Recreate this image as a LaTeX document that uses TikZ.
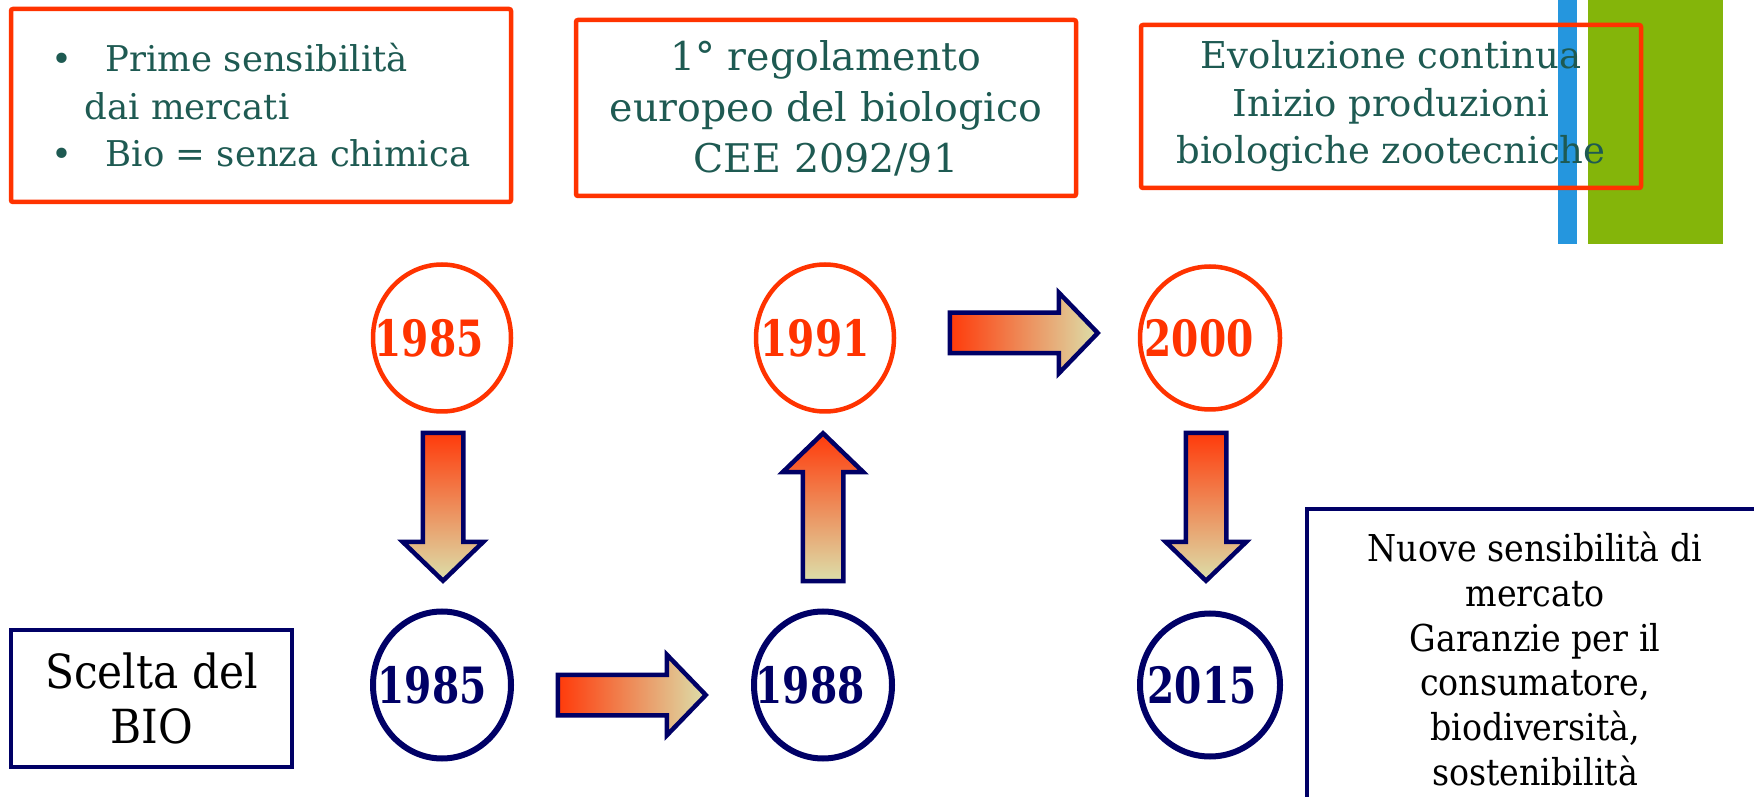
\documentclass[tikz,border=0pt]{standalone}
\usepackage{fontspec}
\usepackage{graphicx}
\setmainfont{DejaVu Serif}
\newfontfamily\blackfont{DejaVu Serif Condensed}
\newfontfamily\yearfont{DejaVu Serif Condensed}
\usetikzlibrary{shapes.geometric,shapes.arrows}

\definecolor{boxred}{HTML}{FF3300}
\definecolor{navy}{HTML}{000066}
\definecolor{notetext}{HTML}{1E5A52}
\definecolor{barblue}{HTML}{2596DE}
\definecolor{bargreen}{HTML}{84B50A}
\definecolor{arrowred}{HTML}{FF3A0A}
\definecolor{arrowtan}{HTML}{DCDFAA}

\tikzset{
  notebox/.style={draw=boxred, line width=4.5pt, rounded corners=2pt, text=notetext,
    align=center, inner sep=0pt, font=\fontsize{35.5}{47.5}\selectfont},
  choicebox/.style={draw=navy, line width=4pt, align=center, inner sep=0pt},
  yearold/.style={ellipse, draw=boxred, line width=4.5pt, inner sep=0pt,
    minimum width=138pt, minimum height=147pt},
  yearnew/.style={yearold, draw=navy, line width=6pt},
  yeartext/.style={inner sep=0pt},
  bigarrow/.style={single arrow, draw=navy, line width=4.5pt, inner xsep=0pt, inner ysep=18pt,
    single arrow head extend=20pt, single arrow tip angle=92, minimum height=148pt},
  arrowh/.style={bigarrow, left color=arrowred, right color=arrowtan},
  arrowv/.style={bigarrow, top color=arrowred, bottom color=arrowtan}
}
\newcommand{\yr}[1]{\scalebox{0.87}[1]{\yearfont\bfseries\fontsize{50}{50}\selectfont #1}}

\begin{document}
\begin{tikzpicture}[x=1pt,y=1pt]
  \clip (0,0) rectangle (1754,796);

  %% bars top right
  \fill[barblue] (1558,552) rectangle (1577,796);
  \fill[bargreen] (1588,552) rectangle (1723,796);

  %% notes
  \node[notebox, minimum width=500pt, minimum height=193pt, align=left] (mercati) at (261,690.5)
    {\makebox[54pt][l]{\textbullet}Prime sensibilità\\\hspace*{33pt}dai mercati\\\makebox[54pt][l]{\textbullet}Bio = senza chimica};
  \node[notebox, minimum width=500pt, minimum height=176pt,
    font=\fontsize{39.5}{51}\selectfont] (regolamento) at (826,688)
    {1° regolamento\\europeo del biologico\\CEE 2092/91};
  \node[notebox, minimum width=500pt, minimum height=163pt,
    font=\fontsize{37}{47.5}\selectfont] (evoluzione) at (1391,689.5)
    {Evoluzione continua\\Inizio produzioni\\biologiche zootecniche};

  %% years
  \node[yearold, label={[yeartext, text=boxred, xshift=-13pt]center:\yr{1985}}] (y85old) at (442,458) {};
  \node[yearold, label={[yeartext, text=boxred, xshift=-10pt]center:\yr{1991}}] (y91)    at (825,458) {};
  \node[yearold, minimum width=140pt, minimum height=143pt,
    label={[yeartext, text=boxred, xshift=-11pt]center:\yr{2000}}]              (y00)    at (1210,458) {};
  \node[yearnew, label={[yeartext, text=navy, xshift=-10pt]center:\yr{1985}}]   (y85new) at (442,111) {};
  \node[yearnew, label={[yeartext, text=navy, xshift=-13pt]center:\yr{1988}}]   (y88)    at (823,111) {};
  \node[yearnew, minimum width=140pt, minimum height=143pt,
    label={[yeartext, text=navy, xshift=-8pt]center:\yr{2015}}]                 (y15)    at (1210,111) {};

  %% arrows
  \node[arrowv, rotate=-90] (a1) at (443,299) {};
  \node[arrowh] (a2) at (622,101) {};
  \node[arrowv, rotate=90] (a3) at (823,279) {};
  \node[arrowh] (a4) at (1014,463) {};
  \node[arrowv, rotate=-90] (a5) at (1206,299) {};

  %% choice and outlook
  \node[choicebox, minimum width=281pt, minimum height=137pt,
    font=\blackfont\fontsize{47}{55}\selectfont] (scelta) at (151.5,97.5) {Scelta del\\BIO};
  \node[choicebox, minimum width=456pt, minimum height=300pt,
    font=\blackfont\fontsize{37}{44.7}\selectfont] (nuove) at (1535,137)
    {Nuove sensibilità di\\mercato\\Garanzie per il\\consumatore,\\biodiversità,\\sostenibilità};
\end{tikzpicture}
\end{document}
